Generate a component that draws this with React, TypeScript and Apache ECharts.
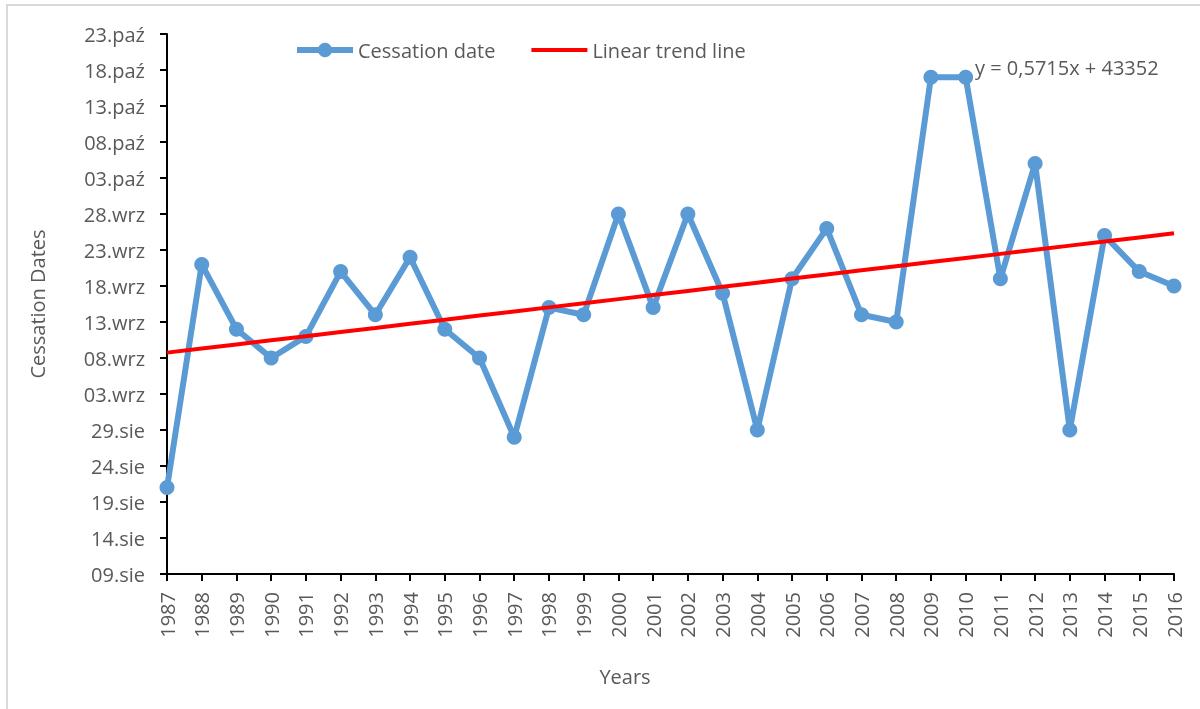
import React, { useEffect, useRef } from "react";
import * as echarts from "echarts";

const years = [
  "1987", "1988", "1989", "1990", "1991", "1992", "1993", "1994", "1995", "1996",
  "1997", "1998", "1999", "2000", "2001", "2002", "2003", "2004", "2005", "2006",
  "2007", "2008", "2009", "2010", "2011", "2012", "2013", "2014", "2015", "2016",
];

// cessation dates (month-day)
const cessationDates = [
  "08-21", "09-21", "09-12", "09-08", "09-11", "09-20", "09-14", "09-22", "09-12", "09-08",
  "08-28", "09-15", "09-14", "09-28", "09-15", "09-28", "09-17", "08-29", "09-19", "09-26",
  "09-14", "09-13", "10-17", "10-17", "09-19", "10-05", "08-29", "09-25", "09-20", "09-18",
];

const yTickLabels = [
  "09.sie", "14.sie", "19.sie", "24.sie", "29.sie", "03.wrz", "08.wrz", "13.wrz",
  "18.wrz", "23.wrz", "28.wrz", "03.paź", "08.paź", "13.paź", "18.paź", "23.paź",
];

const equationText = "y = 0,5715x + 43352";

const BASE = Date.UTC(2018, 7, 9);
const toOffset = (md: string) => {
  const [m, d] = md.split("-").map(Number);
  return (Date.UTC(2018, m - 1, d) - BASE) / 86400000;
};

export default function App() {
  const ref = useRef<HTMLDivElement>(null);
  useEffect(() => {
    document.body.style.margin = "0";
    const chart = echarts.init(ref.current!, undefined, { renderer: "svg" });
    const values = cessationDates.map(toOffset);
    const n = values.length;
    const xs = values.map((_, i) => i);
    const mx = xs.reduce((a, b) => a + b, 0) / n;
    const my = values.reduce((a, b) => a + b, 0) / n;
    let sxy = 0, sxx = 0;
    for (let i = 0; i < n; i++) {
      sxy += (xs[i] - mx) * (values[i] - my);
      sxx += (xs[i] - mx) * (xs[i] - mx);
    }
    const slope = sxy / sxx;
    const icpt = my - slope * mx;
    const trend = xs.map((x) => +(icpt + slope * x).toFixed(3));

    const font = "Open Sans";
    const grey = "#595959";
    const blue = "#5B9BD5";
    const red = "#FF0000";
    chart.setOption({
      animation: false,
      textStyle: { fontFamily: font },
      grid: { left: 167, right: 26, top: 34, bottom: 135 },
      legend: {
        left: 289,
        top: 35,
        itemWidth: 56,
        itemHeight: 18,
        itemGap: 34,
        textStyle: { fontSize: 20, color: grey, fontFamily: font },
        data: [
          { name: "Cessation date", lineStyle: { width: 6, color: blue }, itemStyle: { color: blue } },
          {
            name: "Linear trend line",
            lineStyle: { width: 4, color: red },
            itemStyle: { color: "rgba(0,0,0,0)", borderWidth: 0 },
          },
        ],
      },
      xAxis: {
        type: "category",
        data: years,
        boundaryGap: false,
        axisLine: { lineStyle: { color: "#000", width: 2 } },
        axisTick: { alignWithLabel: true, length: 7, lineStyle: { color: "#000", width: 2 } },
        axisLabel: { rotate: 90, margin: 18, fontSize: 20, color: grey, fontFamily: font, interval: 0 },
        splitLine: { show: false },
      },
      yAxis: {
        type: "value",
        min: 0,
        max: 75,
        interval: 5,
        name: "Cessation Dates",
        nameLocation: "middle",
        nameGap: 120,
        nameTextStyle: { fontSize: 20, color: grey, fontFamily: font },
        axisLine: { show: true, lineStyle: { color: "#000", width: 2 } },
        axisTick: { show: true, length: 7, lineStyle: { color: "#000", width: 2 } },
        axisLabel: {
          margin: 22,
          fontSize: 20,
          color: grey,
          fontFamily: font,
          formatter: (v: number) => yTickLabels[Math.round(v / 5)] ?? "",
        },
        splitLine: { show: false },
      },
      graphic: [
        {
          type: "rect",
          shape: { x: 7, y: 5, width: 1400, height: 900 },
          style: { fill: "none", stroke: "#d9d9d9", lineWidth: 2 },
          silent: true,
        },
        {
          type: "text",
          x: 625,
          y: 676,
          style: { text: "Years", fontSize: 20, fill: grey, fontFamily: font, align: "center", verticalAlign: "middle" },
        },
        {
          type: "text",
          x: 975,
          y: 67,
          style: { text: equationText, fontSize: 20, fill: grey, fontFamily: font, align: "left", verticalAlign: "middle" },
        },
      ],
      series: [
        {
          name: "Cessation date",
          type: "line",
          data: values,
          symbol: "circle",
          symbolSize: 15,
          lineStyle: { color: blue, width: 6 },
          itemStyle: { color: blue },
          z: 2,
        },
        {
          name: "Linear trend line",
          type: "line",
          data: trend,
          symbol: "none",
          lineStyle: { color: red, width: 4 },
          itemStyle: { color: red },
          z: 3,
        },
      ],
    });
    return () => chart.dispose();
  }, []);
  return <div ref={ref} style={{ position: "fixed", left: 0, top: 0, width: 1200, height: 709 }} />;
}
